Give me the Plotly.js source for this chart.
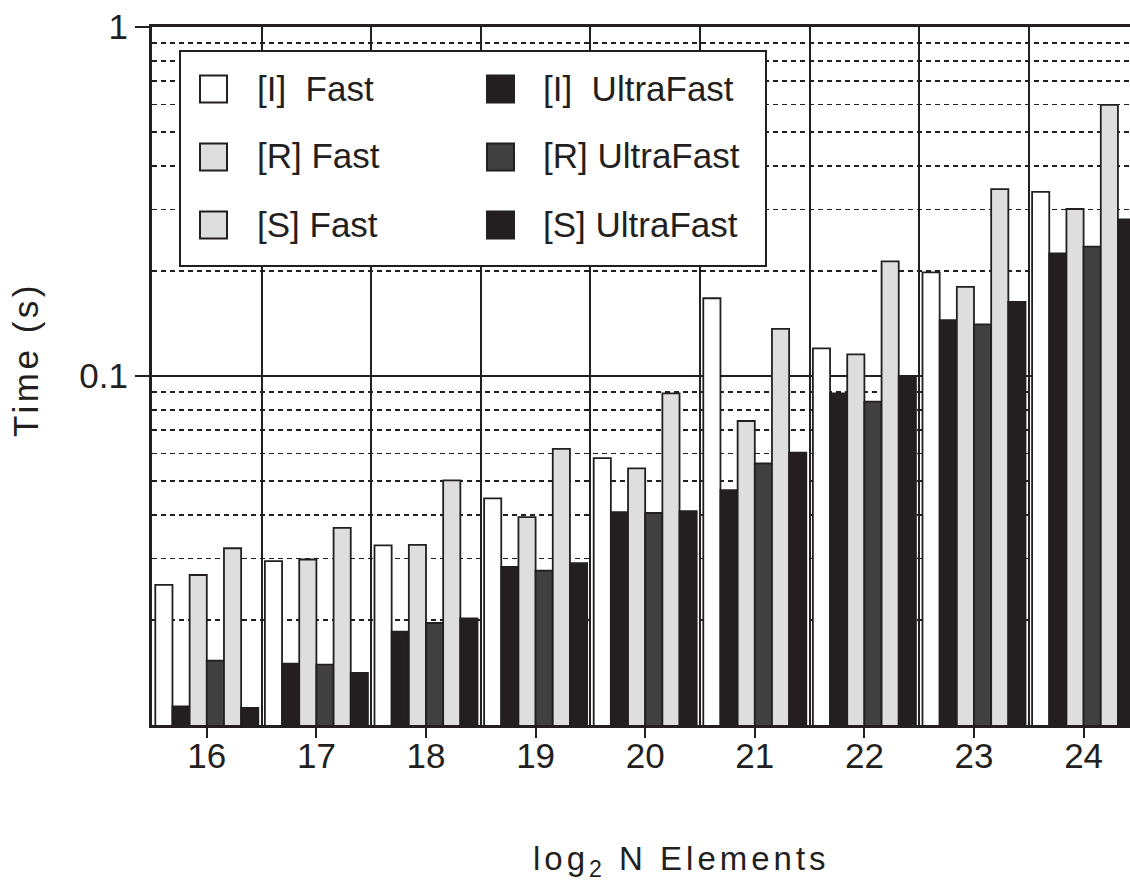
<!DOCTYPE html>
<html><head><meta charset="utf-8">
<script src="https://cdn.plot.ly/plotly-3.0.1.min.js"></script>
<style>
html,body{margin:0;padding:0;background:#fff;overflow:hidden}
#chart{width:1130px;height:882px}
.annotation-text{white-space:pre}
g.annotation[data-index="0"] text{letter-spacing:4px}
g.annotation[data-index="1"] text{letter-spacing:3.5px}
</style></head><body><div id="chart"></div>
<script>
// ---- data ----
const sizes = [16, 17, 18, 19, 20, 21, 22, 23, 24];            // log2 N elements
const iFast   = [0.0252, 0.0295, 0.0327, 0.0446, 0.0582, 0.167, 0.120, 0.198, 0.337];
const iUltra  = [0.0113, 0.0150, 0.0185, 0.0284, 0.0407, 0.0471, 0.0892, 0.1446, 0.2246];
const rFast   = [0.0269, 0.0298, 0.0328, 0.0394, 0.0544, 0.0743, 0.1154, 0.180, 0.301];
const rUltra  = [0.0153, 0.0149, 0.0196, 0.0277, 0.0405, 0.0562, 0.0844, 0.1406, 0.2347];
const sFast   = [0.0321, 0.0367, 0.0502, 0.0618, 0.0892, 0.1364, 0.213, 0.343, 0.598];
const sUltra  = [0.0112, 0.0141, 0.0202, 0.0291, 0.0410, 0.0603, 0.100, 0.163, 0.281];
const seriesNames = ['[I]  Fast', '[I]  UltraFast', '[R] Fast', '[R] UltraFast', '[S] Fast', '[S] UltraFast'];
const yTickVals = [0.1, 1];
const yTickText = ['0.1', '1'];
const xTitle = 'log<sub>2</sub> N Elements';
const yTitle = 'Time (s)';

// ---- styling ----
const INK = '#231f20';
const FONT = "'Liberation Sans', Arial, Helvetica, sans-serif";
const FS = 35;
const seriesColors = ['#ffffff', '#231f20', '#dedede', '#404040', '#dedede', '#231f20'];
const seriesValues = [iFast, iUltra, rFast, rUltra, sFast, sUltra];

const traces = seriesValues.map((vals, i) => ({
  type: 'bar', x: sizes, y: vals, name: seriesNames[i], showlegend: false,
  marker: {color: seriesColors[i], line: {color: INK, width: 1.8}},
  hoverinfo: 'x+y+name'
}));

// minor (dashed) grid positions 2..9 per decade
const minorY = [];
[0.01, 0.1].forEach(d => { for (let k = 2; k <= 9; k++) minorY.push(+(k * d).toPrecision(3)); });

// pixel -> paper helpers for the plot box (l=152, r=1130, t=27, b=725)
const PL = 152, PW = 978, PT = 27, PH = 698;
const px = x => (x - PL) / PW;
const py = y => (PT + PH - y) / PH;

const shapes = [{
  type: 'rect', xref: 'paper', yref: 'paper', layer: 'above',
  x0: px(180), x1: px(766), y0: py(266), y1: py(51),
  line: {color: INK, width: 2}, fillcolor: '#ffffff'
}];
const annotations = [{
  xref: 'paper', yref: 'paper', x: px(681), y: py(861), xanchor: 'center', yanchor: 'middle',
  text: xTitle, showarrow: false, font: {size: 33, color: INK, family: FONT}
}, {
  xref: 'paper', yref: 'paper', x: px(25), y: py(359), xanchor: 'center', yanchor: 'middle',
  text: yTitle, textangle: -90, showarrow: false, font: {size: FS, color: INK, family: FONT}
}];
const rowY = [89, 157, 225];
const colSymX = [200, 487];
const colTextX = [255, 541];
seriesNames.forEach((name, i) => {
  const col = i % 2, row = Math.floor(i / 2);
  shapes.push({
    type: 'rect', xref: 'paper', yref: 'paper', layer: 'above',
    x0: px(colSymX[col]), x1: px(colSymX[col] + 27),
    y0: py(rowY[row] + 13.5), y1: py(rowY[row] - 13.5),
    line: {color: INK, width: 2}, fillcolor: seriesColors[i]
  });
  annotations.push({
    xref: 'paper', yref: 'paper', x: px(colTextX[col]), y: py(rowY[row] - 1),
    xanchor: 'left', yanchor: 'middle', text: name, showarrow: false,
    font: {size: FS, color: INK, family: FONT}
  });
});

const layout = {
  width: 1130, height: 882,
  margin: {l: 152, r: 0, t: 27, b: 157, pad: 0},
  paper_bgcolor: '#ffffff', plot_bgcolor: '#ffffff',
  font: {family: FONT, size: FS, color: INK},
  barmode: 'group', bargap: 0.06, bargroupgap: 0,
  showlegend: false,
  xaxis: {
    range: [15.5, 15.5 + PW / 109.6],
    tickmode: 'array', tickvals: sizes, ticktext: sizes.map(String),
    ticks: 'outside', ticklen: 10, tickwidth: 2, tickcolor: INK,
    tickfont: {size: FS, color: INK}, ticklabelstandoff: -12,
    showgrid: false, zeroline: false,
    showline: true, linecolor: INK, linewidth: 3, mirror: true,
    minor: {tick0: 15.5, dtick: 1, showgrid: true, gridcolor: INK, gridwidth: 2, ticks: ''},
    automargin: false
  },
  yaxis: {
    type: 'log', range: [-2, 0],
    tickmode: 'array', tickvals: yTickVals, ticktext: yTickText,
    ticks: 'outside', ticklen: 14, tickwidth: 2, tickcolor: INK,
    tickfont: {size: FS, color: INK},
    showgrid: true, gridcolor: INK, gridwidth: 2,
    zeroline: false, showline: true, linecolor: INK, linewidth: 3, mirror: false,
    minor: {tickmode: 'array', tickvals: minorY, showgrid: true, gridcolor: INK, gridwidth: 1.8, griddash: '5px,4px', ticks: ''},
    automargin: false
  },
  shapes: shapes,
  annotations: annotations
};

Plotly.newPlot('chart', traces, layout, {displayModeBar: false, staticPlot: true});
</script>
</body></html>
